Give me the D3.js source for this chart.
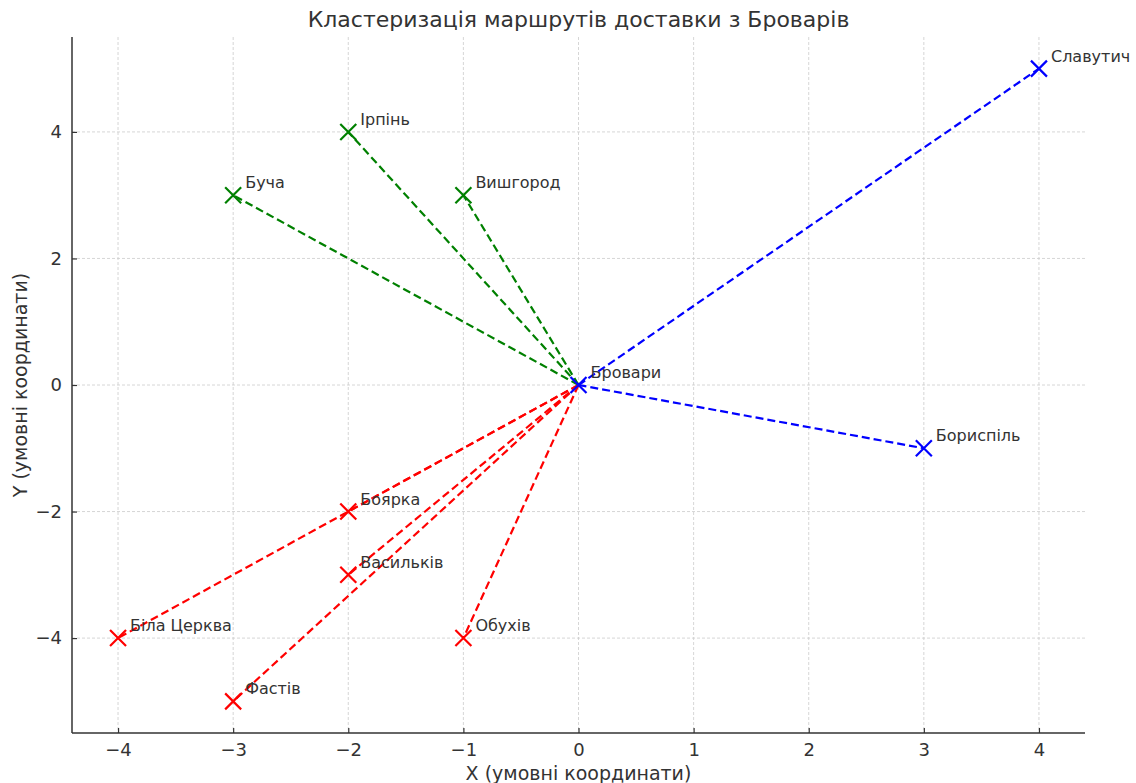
<!DOCTYPE html>
<html><head><meta charset="utf-8">
<script src="https://cdn.jsdelivr.net/npm/d3@7"></script>
<style>body{margin:0;background:#fff;} text{font-family:"DejaVu Sans",sans-serif;}</style>
</head><body>
<svg id="c" width="1136" height="783"></svg>
<script>
const hub = {name: "Бровари", x: 0, y: 0};
const cityNames = ["Буча","Ірпінь","Вишгород","Славутич","Бориспіль","Боярка","Васильків","Біла Церква","Фастів","Обухів"];
const cityX = [-3,-2,-1,4,3,-2,-2,-4,-3,-1];
const cityY = [3,4,3,5,-1,-2,-3,-4,-5,-4];
const cityCluster = ["green","green","green","blue","blue","red","red","red","red","red"];
const xTicks = [-4,-3,-2,-1,0,1,2,3,4];
const yTicks = [-4,-2,0,2,4];
const title = "Кластеризація маршрутів доставки з Броварів";
const xLabel = "X (умовні координати)";
const yLabel = "Y (умовні координати)";

const cities = cityNames.map((n,i)=>({name:n,x:cityX[i],y:cityY[i],c:cityCluster[i]}));
const svg = d3.select("#c");
const L=72, R=1085, T=37, B=733;
const x = d3.scaleLinear().domain([-4.4,4.4]).range([L,R]);
const y = d3.scaleLinear().domain([-5.5,5.5]).range([B,T]);
const txt="#333";

// grid
const g = svg.append("g");
g.selectAll(".gx").data(xTicks).join("line").attr("x1",d=>x(d)).attr("x2",d=>x(d)).attr("y1",T).attr("y2",B)
 .attr("stroke","#ccc").attr("stroke-width",0.8).attr("stroke-dasharray","3,2");
g.selectAll(".gy").data(yTicks).join("line").attr("y1",d=>y(d)).attr("y2",d=>y(d)).attr("x1",L).attr("x2",R)
 .attr("stroke","#ccc").attr("stroke-width",0.8).attr("stroke-dasharray","3,2");

// lines
svg.append("g").selectAll("line").data(cities).join("line")
 .attr("x1",x(hub.x)).attr("y1",y(hub.y)).attr("x2",d=>x(d.x)).attr("y2",d=>y(d.y))
 .attr("stroke",d=>d.c).attr("stroke-width",2.2).attr("stroke-dasharray","8,4");

// markers
const s=8;
function cross(sel,color){
  sel.append("path").attr("d",`M${-s},${-s}L${s},${s}M${-s},${s}L${s},${-s}`).attr("stroke",color).attr("stroke-width",2.2).attr("fill","none");
}
const allPts = cities.concat([{name:hub.name,x:hub.x,y:hub.y,c:"blue"}]);
allPts.forEach(p=>{
  const m = svg.append("g").attr("transform",`translate(${x(p.x)},${y(p.y)})`);
  cross(m,p.c);
  svg.append("text").attr("x",x(p.x)+12).attr("y",y(p.y)-7).attr("font-size",16).attr("fill",txt).text(p.name);
});

// axes
const xa = svg.append("g").attr("transform",`translate(0,${B})`)
 .call(d3.axisBottom(x).tickValues(xTicks).tickSizeInner(-5).tickSizeOuter(0).tickPadding(10).tickFormat(d=>d<0?"−"+Math.abs(d):d));
const ya = svg.append("g").attr("transform",`translate(${L},0)`)
 .call(d3.axisLeft(y).tickValues(yTicks).tickSizeInner(-5).tickSizeOuter(0).tickPadding(10).tickFormat(d=>d<0?"−"+Math.abs(d):d));
[xa,ya].forEach(a=>{
  a.select(".domain").attr("stroke","#333").attr("stroke-width",1.5);
  a.selectAll(".tick line").attr("stroke","#333").attr("stroke-width",1.2);
  a.selectAll(".tick text").attr("font-size",18).attr("fill",txt).attr("font-family","DejaVu Sans");
});
xa.select(".domain").attr("d",`M${L},0H${R}`);
ya.select(".domain").attr("d",`M0,${T}V${B}`);

svg.append("text").attr("x",(L+R)/2).attr("y",27).attr("text-anchor","middle").attr("font-size",22).attr("fill",txt).text(title);
svg.append("text").attr("x",(L+R)/2).attr("y",780).attr("text-anchor","middle").attr("font-size",19).attr("fill",txt).text(xLabel);
svg.append("text").attr("transform",`translate(27,${(T+B)/2}) rotate(-90)`).attr("text-anchor","middle").attr("font-size",19).attr("fill",txt).text(yLabel);
</script>
</body></html>
